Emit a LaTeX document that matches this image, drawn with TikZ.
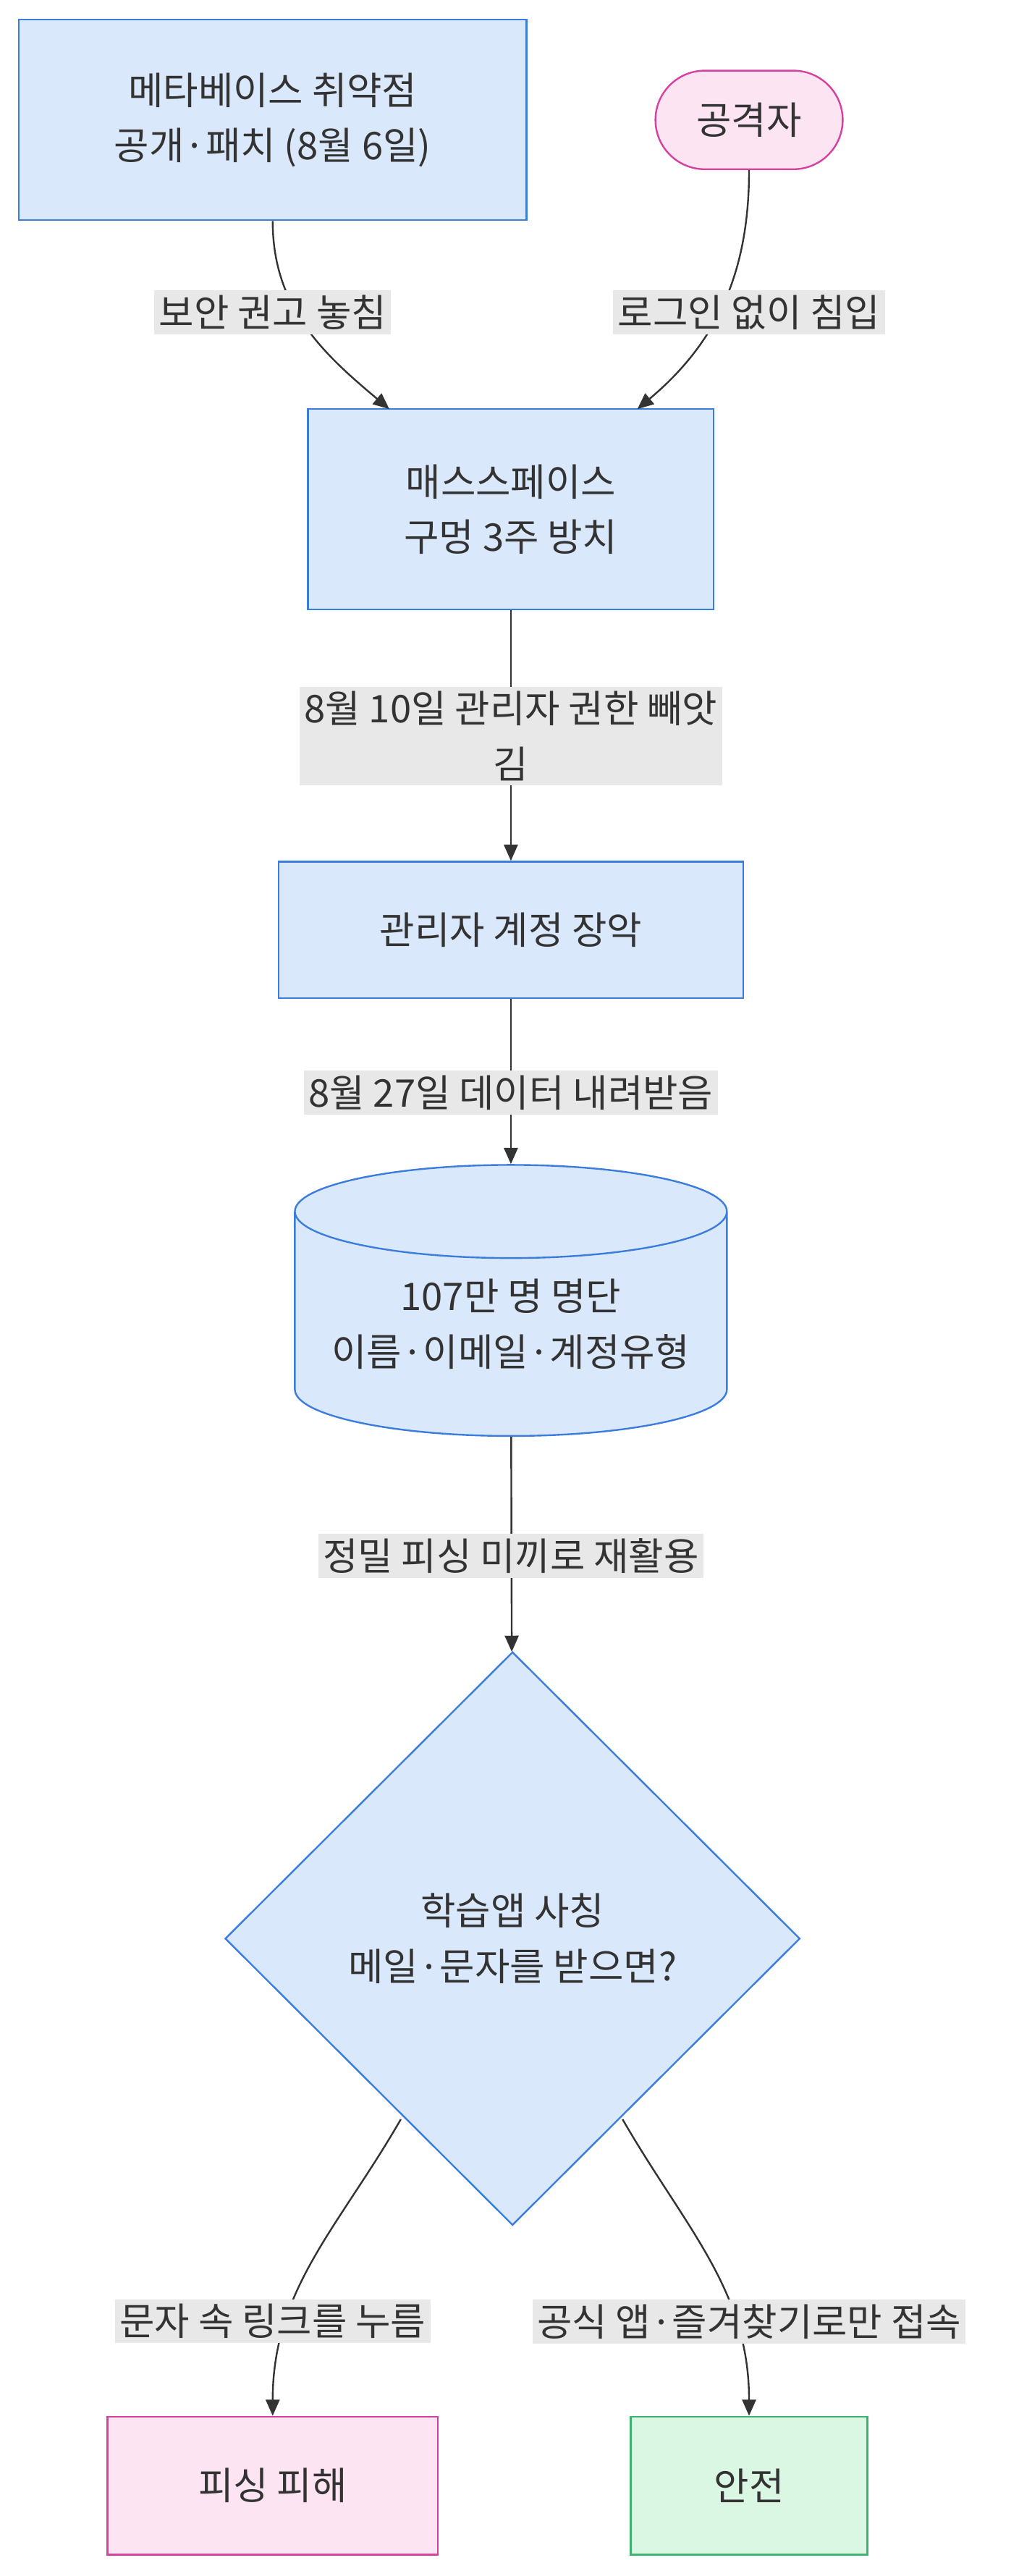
\documentclass[tikz,border=0pt]{standalone}
\usepackage{fontspec}
\setmainfont{Noto Sans CJK KR}
\usetikzlibrary{shapes.geometric,arrows.meta}
\definecolor{boxfill}{HTML}{DAE8FC}
\definecolor{boxline}{HTML}{3B7DDD}
\definecolor{pinkfill}{HTML}{FDE4F2}
\definecolor{pinkline}{HTML}{D6409F}
\definecolor{greenfill}{HTML}{DAF7E4}
\definecolor{greenline}{HTML}{3CB371}
\definecolor{labfill}{HTML}{E8E8E8}
\definecolor{ink}{HTML}{333333}
\begin{document}
\begin{tikzpicture}[x=0.05cm, y=-0.05cm,
    every node/.style={font=\fontsize{33}{48}\selectfont, text=ink, align=center},
    stage/.style={draw=boxline, fill=boxfill, line width=1.5pt, inner sep=0pt},
    bad/.style={draw=pinkline, fill=pinkfill, line width=1.5pt, inner sep=0pt},
    good/.style={draw=greenline, fill=greenfill, line width=1.5pt, inner sep=0pt},
    lab/.style={fill=labfill, inner sep=4pt},
    flow/.style={draw=ink, line width=1.5pt, -{Triangle[length=14pt,width=12pt]}}]
  \useasboundingbox[fill=white] (0,0) rectangle (620,1568);
  % nodes
  \node[stage, minimum width=15.45cm, minimum height=6.1cm] (patch) at (166,73) {메타베이스 취약점\\공개·패치 (8월 6일)};
  \node[bad, rounded corners=1.5cm, minimum width=5.7cm, minimum height=3cm] (attacker) at (456,73) {공격자};
  \node[stage, minimum width=12.35cm, minimum height=6.1cm] (hole) at (311,310) {매스스페이스\\구멍 3주 방치};
  \node[stage, minimum width=14.15cm, minimum height=4.15cm] (admin) at (311,566) {관리자 계정 장악};
  \node[stage, cylinder, shape border rotate=90, aspect=0.26, minimum width=13.15cm, minimum height=8.25cm] (db) at (311,806) {107만 명 명단\\이름·이메일·계정유형};
  \node[stage, diamond, minimum width=17.5cm, minimum height=17.45cm] (ask) at (312,1180) {학습앱 사칭\\메일·문자를 받으면?};
  \node[bad, minimum width=10.05cm, minimum height=4.2cm] (victim) at (166,1513) {피싱 피해};
  \node[good, minimum width=7.2cm, minimum height=4.2cm] (safe) at (456,1513) {안전};
  % connectors
  \coordinate (holeL) at (237,249);
  \coordinate (holeR) at (388,249);
  \coordinate (askL) at (244,1290);
  \coordinate (askR) at (379,1290);
  \draw[flow] (patch.south) to[out=-90, in=140] (holeL);
  \draw[flow] (attacker.south) to[out=-90, in=40] (holeR);
  \draw[flow] (hole) -- (admin);
  \draw[flow] (admin) -- (db);
  \draw[flow] (db) -- (ask);
  \draw[flow] (askL) to[out=-120, in=90] (victim.north);
  \draw[flow] (askR) to[out=-60, in=90] (safe.north);
  % labels
  \node[lab] (l1) at (166,190) {보안 권고 놓침};
  \node[lab] (l2) at (456,190) {로그인 없이 침입};
  \node[lab] (l3) at (311,448) {8월 10일 관리자 권한 빼앗\\김};
  \node[lab] (l4) at (311,665) {8월 27일 데이터 내려받음};
  \node[lab] (l5) at (311,947) {정밀 피싱 미끼로 재활용};
  \node[lab] (l6) at (166,1413) {문자 속 링크를 누름};
  \node[lab] (l7) at (456,1413) {공식 앱·즐겨찾기로만 접속};
\end{tikzpicture}
\end{document}
